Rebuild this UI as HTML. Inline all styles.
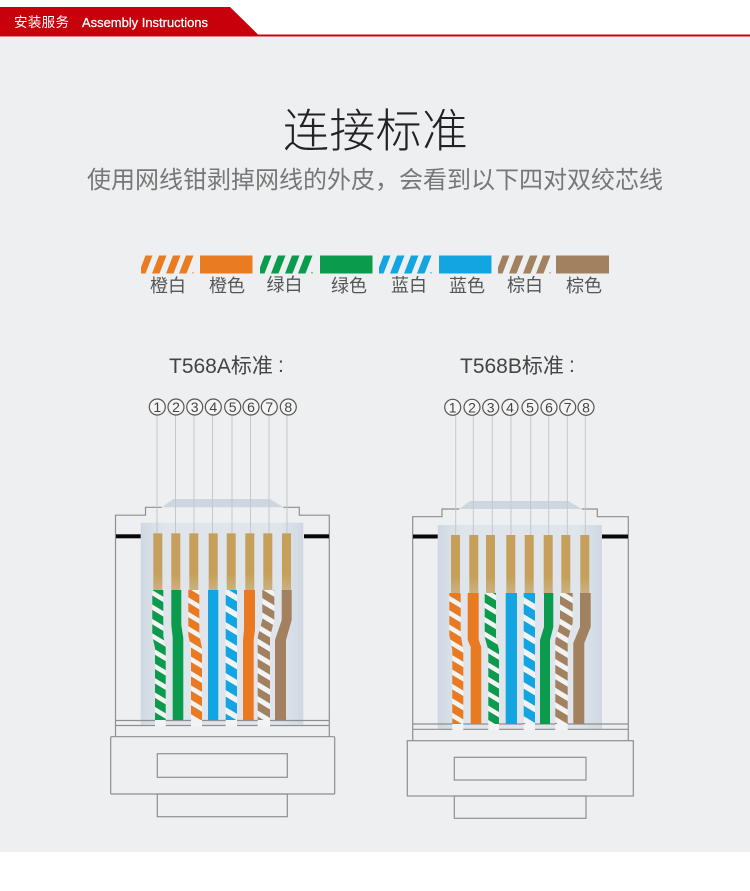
<!DOCTYPE html>
<html lang="zh">
<head>
<meta charset="utf-8">
<title>连接标准</title>
<style>
html,body{margin:0;padding:0;background:#fff;width:750px;height:891px;overflow:hidden}
svg{display:block}
text{font-family:"Liberation Sans","Noto Sans CJK SC",sans-serif}
.sw{font-size:18px;fill:#555;text-anchor:middle}
.n{font-size:14px;fill:#444;text-anchor:middle}
.c{fill:#f5f5f6;stroke:#555;stroke-width:1.2}
.l{stroke:#c4c8cc;stroke-width:1;fill:none}
.o{stroke:#8f8f8f;stroke-width:1.2;fill:none}
.au{fill:url(#gold)}
.k{fill:#080808}
.h{font-size:21px;fill:#444}
</style>
</head>
<body>
<svg width="750" height="891" viewBox="0 0 750 891" xmlns="http://www.w3.org/2000/svg">
<defs>
<linearGradient id="box" x1="0" x2="1" y1="0" y2="0">
<stop offset="0" stop-color="#cfd8e2"/><stop offset=".15" stop-color="#dfe5eb"/><stop offset=".85" stop-color="#dfe5eb"/><stop offset="1" stop-color="#cfd8e2"/>
</linearGradient>
<linearGradient id="gold" x1="0" x2="0" y1="0" y2="1">
<stop offset="0" stop-color="#c6a05a"/><stop offset=".7" stop-color="#c6a05a"/><stop offset="1" stop-color="#cbb184"/>
</linearGradient>
<pattern id="wo" width="14.4" height="14.4" patternUnits="userSpaceOnUse" patternTransform="skewY(31)"><rect width="14.4" height="14.4" fill="#f2f3f3"/><rect width="14.4" height="9" fill="#ea7a22"/></pattern>
<pattern id="wg" width="14.4" height="14.4" patternUnits="userSpaceOnUse" patternTransform="skewY(31)"><rect width="14.4" height="14.4" fill="#f2f3f3"/><rect width="14.4" height="9" fill="#0b9b4c"/></pattern>
<pattern id="wb" width="17" height="17" patternUnits="userSpaceOnUse" patternTransform="skewY(31)"><rect width="17" height="17" fill="#f2f3f3"/><rect width="17" height="10.5" fill="#12a5e2"/></pattern>
<pattern id="wn" width="14.4" height="14.4" patternUnits="userSpaceOnUse" patternTransform="skewY(31)"><rect width="14.4" height="14.4" fill="#f2f3f3"/><rect width="14.4" height="8.5" fill="#a1815f"/></pattern>
<g id="st">
<polygon points="0,18 4.5,18 11.5,0 4.5,0 0,12"/>
<polygon points="11,18 18.5,18 25.5,0 18,0"/>
<polygon points="25,18 32.5,18 39.5,0 32,0"/>
<polygon points="38,18 45.5,18 52.5,0 45,0"/>
<rect x="51.5" y="16.5" width="1" height="1.5"/>
</g>
</defs>

<rect width="750" height="891" fill="#fff"/>
<rect y="37" width="750" height="815" fill="#eeeff1"/>

<!-- header -->
<polygon points="0,7 230,7 258,34.5 750,34.5 750,36.5 0,36.5" fill="#c7000b"/>
<text x="14" y="27" font-size="13.5" fill="#fff" textLength="55">安装服务</text>
<text x="82" y="27" font-size="12.5" fill="#fff" stroke="#fff" stroke-width=".25" textLength="126" lengthAdjust="spacingAndGlyphs">Assembly Instructions</text>

<!-- titles -->
<text x="283" y="147" font-size="46" font-weight="300" fill="#222" textLength="185">连接标准</text>
<text x="87" y="188" font-size="24" fill="#777" textLength="576">使用网线钳剥掉网线的外皮，会看到以下四对双绞芯线</text>

<!-- swatches -->
<use href="#st" x="141" y="255.5" fill="#e97b22"/>
<rect x="200" y="255.5" width="52.5" height="18" fill="#e97b22"/>
<use href="#st" x="260" y="255.5" fill="#0b9b4c"/>
<rect x="320" y="255.5" width="52.5" height="18" fill="#0b9b4c"/>
<use href="#st" x="379" y="255.5" fill="#12a5e2"/>
<rect x="439" y="255.5" width="52.5" height="18" fill="#12a5e2"/>
<use href="#st" x="498" y="255.5" fill="#a1815f"/>
<rect x="556" y="255.5" width="53" height="18" fill="#a1815f"/>
<text class="sw" x="168" y="292">橙白</text>
<text class="sw" x="227" y="292">橙色</text>
<text class="sw" x="284.5" y="291">绿白</text>
<text class="sw" x="349" y="292">绿色</text>
<text class="sw" x="409" y="291.5">蓝白</text>
<text class="sw" x="467" y="292">蓝色</text>
<text class="sw" x="525" y="291.5">棕白</text>
<text class="sw" x="584" y="292">棕色</text>

<text class="h" x="169" y="373">T568A标准</text>
<text class="h" x="278" y="372">:</text>
<text class="h" x="460" y="373">T568B标准</text>
<text class="h" x="569" y="372">:</text>

<!-- T568A connector -->
<g>
<polygon points="161.7,507.3 173.3,499 270,499 283.3,507.3" fill="#ced7df"/>
<rect x="140.7" y="522.7" width="162.6" height="202" fill="url(#box)"/>
<path class="o" d="M115.5,737V515.2H145.5V507.3H161.7M283.3,507.3H299.3V515.2H329.3V737"/>
<rect class="k" x="116" y="534.3" width="24.7" height="4"/>
<rect class="k" x="304" y="534.3" width="25" height="4"/>
<path class="l" d="M157,415V533M175.5,415V533M194,415V533M212.5,415V533M232,415V533M250.5,415V533M269,415V533M287,415V533"/>
<rect class="au" x="153.3" y="533.3" width="9" height="58"/>
<rect class="au" x="171.3" y="533.3" width="9" height="58"/>
<rect class="au" x="189.3" y="533.3" width="9" height="58"/>
<rect class="au" x="208.7" y="533.3" width="9" height="58"/>
<rect class="au" x="226.7" y="533.3" width="9" height="58"/>
<rect class="au" x="245.3" y="533.3" width="9" height="58"/>
<rect class="au" x="263.3" y="533.3" width="9" height="58"/>
<rect class="au" x="282" y="533.3" width="9" height="58"/>
<path class="o" d="M115.5,720.5H329.3M115.5,725.5H329.3"/>
<polygon points="152.3,590 163.3,590 163.3,636 165.7,648 165.7,720 155,720 155,648 152.3,636" fill="url(#wg)"/>
<rect x="155" y="720" width="10.7" height="6.5" fill="#f2f3f3"/>
<polygon points="171.3,590 181.3,590 181.3,625 183.3,638 183.3,720 172.7,720 172.7,638 171.3,625" fill="#0b9b4c"/>
<polygon points="188.3,590 199.3,590 199.3,635 202,648 202,720 191,720 191,648 188.3,635" fill="url(#wo)"/>
<rect x="191" y="720" width="11" height="6.5" fill="#f2f3f3"/>
<rect x="208" y="590" width="10.3" height="130" fill="#12a5e2"/>
<rect x="225.7" y="590" width="11.3" height="130" fill="url(#wb)"/>
<rect x="225.7" y="720" width="11.3" height="6.5" fill="#f2f3f3"/>
<polygon points="244,590 255,590 255,630 253.7,640 253.7,720 243,720 243,640 244,630" fill="#ea7a22"/>
<polygon points="262.3,590 274.3,590 274.3,620 270,637 270,720 257.7,720 257.7,637 262.3,620" fill="url(#wn)"/>
<rect x="257.7" y="720" width="12.3" height="6.5" fill="#f2f3f3"/>
<polygon points="281.7,590 291.7,590 291.7,620 286,640 286,720 275,720 275,640 281.7,620" fill="#a1815f"/>
<rect class="o" x="110.7" y="736.7" width="224" height="57.3" rx="1"/>
<rect class="o" x="157.3" y="753.7" width="130" height="23.6"/>
<rect class="o" x="157.3" y="794" width="130" height="22.7"/>
<g>
<circle class="c" cx="157.3" cy="407" r="8"/><text class="n" x="157.3" y="412">1</text>
<circle class="c" cx="176" cy="407" r="8"/><text class="n" x="176" y="412">2</text>
<circle class="c" cx="194.7" cy="407" r="8"/><text class="n" x="194.7" y="412">3</text>
<circle class="c" cx="213.3" cy="407" r="8"/><text class="n" x="213.3" y="412">4</text>
<circle class="c" cx="232.7" cy="407" r="8"/><text class="n" x="232.7" y="412">5</text>
<circle class="c" cx="251" cy="407" r="8"/><text class="n" x="251" y="412">6</text>
<circle class="c" cx="269.3" cy="407" r="8"/><text class="n" x="269.3" y="412">7</text>
<circle class="c" cx="288.3" cy="407" r="8"/><text class="n" x="288.3" y="412">8</text>
</g>
</g>

<!-- T568B connector -->
<g>
<polygon points="459.3,509 470,501 568.3,501 581.7,509" fill="#ced7df"/>
<rect x="437.7" y="525" width="164.3" height="204" fill="url(#box)"/>
<path class="o" d="M412.7,740.7V516.7H442V509H459.3M581.7,509H597.3V516.7H628.3V740.7"/>
<rect class="k" x="413" y="534.5" width="24.7" height="4"/>
<rect class="k" x="602" y="534.5" width="26" height="4"/>
<path class="l" d="M455.7,415V535M473.3,415V535M492.3,415V535M511,415V535M530.7,415V535M548.7,415V535M567.3,415V535M585.3,415V535"/>
<rect class="au" x="451" y="535" width="9" height="59"/>
<rect class="au" x="469.3" y="535" width="9" height="59"/>
<rect class="au" x="486" y="535" width="9" height="59"/>
<rect class="au" x="506.3" y="535" width="9" height="59"/>
<rect class="au" x="524.7" y="535" width="9" height="59"/>
<rect class="au" x="543.7" y="535" width="9" height="59"/>
<rect class="au" x="561.3" y="535" width="9" height="59"/>
<rect class="au" x="580.3" y="535" width="9" height="59"/>
<path class="o" d="M412.7,724H628.3M412.7,729.3H628.3"/>
<polygon points="449.3,593 460.7,593 460.7,635 463.3,650 463.3,724 452.3,724 452.3,650 449.3,635" fill="url(#wo)"/>
<rect x="452.3" y="724" width="11" height="6" fill="#f2f3f3"/>
<polygon points="467.7,593 478.7,593 478.7,640 481.3,647 481.3,724 470.7,724 470.7,647 467.7,640" fill="#ea7a22"/>
<polygon points="484.7,593 496,593 496,637 499,650 499,724 488.3,724 488.3,650 484.7,637" fill="url(#wg)"/>
<rect x="488.3" y="724" width="10.7" height="6" fill="#f2f3f3"/>
<rect x="505.7" y="593" width="11.3" height="131" fill="#12a5e2"/>
<rect x="523.7" y="593" width="11.3" height="131" fill="url(#wb)"/>
<rect x="523.7" y="724" width="11.3" height="6" fill="#f2f3f3"/>
<polygon points="544,593 553.3,593 553.3,627 550,640 550,724 540,724 540,640 544,627" fill="#0b9b4c"/>
<polygon points="560,593 572.7,593 572.7,623 567.7,640 567.7,724 555.3,724 555.3,640 560,623" fill="url(#wn)"/>
<rect x="555.3" y="724" width="12.4" height="6" fill="#f2f3f3"/>
<polygon points="580,593 590.7,593 590.7,627 584.3,643 584.3,724 573.3,724 573.3,643 580,627" fill="#a1815f"/>
<rect class="o" x="407.3" y="740.7" width="226" height="55.3"/>
<rect class="o" x="454.3" y="757.3" width="131.7" height="22.7"/>
<rect class="o" x="454.3" y="796" width="131.7" height="22.3"/>
<g>
<circle class="c" cx="452.7" cy="407.3" r="8"/><text class="n" x="452.7" y="412.3">1</text>
<circle class="c" cx="472" cy="407.3" r="8"/><text class="n" x="472" y="412.3">2</text>
<circle class="c" cx="490.7" cy="407.3" r="8"/><text class="n" x="490.7" y="412.3">3</text>
<circle class="c" cx="510" cy="407.3" r="8"/><text class="n" x="510" y="412.3">4</text>
<circle class="c" cx="530" cy="407.3" r="8"/><text class="n" x="530" y="412.3">5</text>
<circle class="c" cx="549" cy="407.3" r="8"/><text class="n" x="549" y="412.3">6</text>
<circle class="c" cx="567.7" cy="407.3" r="8"/><text class="n" x="567.7" y="412.3">7</text>
<circle class="c" cx="586" cy="407.3" r="8"/><text class="n" x="586" y="412.3">8</text>
</g>
</g>
</svg>
</body>
</html>
